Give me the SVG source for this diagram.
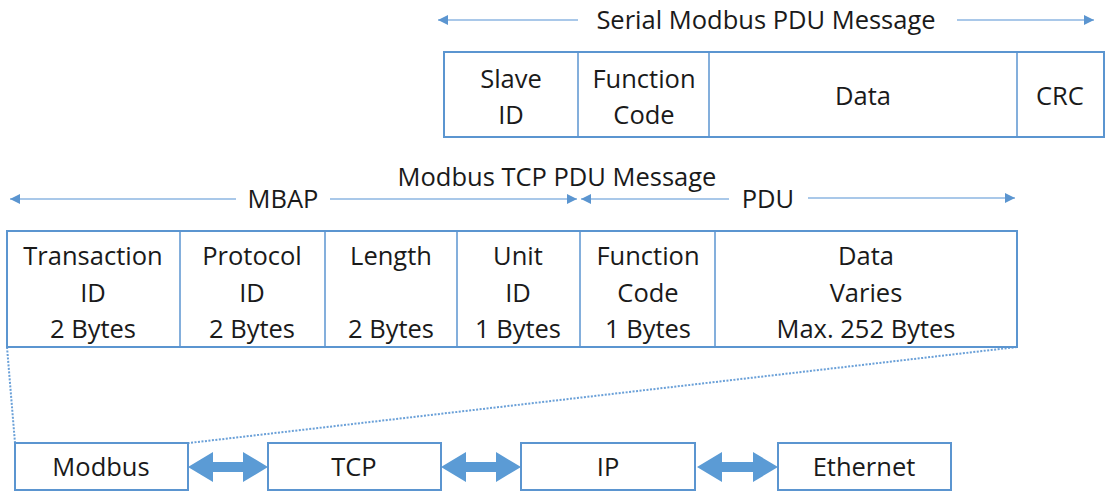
<svg xmlns="http://www.w3.org/2000/svg" width="1108" height="492" viewBox="0 0 1108 492">
<defs>
<style>
.box{fill:#ffffff;stroke:#5b95d0;stroke-width:2}
.div{stroke:#5b95d0;stroke-width:1.5}
.t{font-family:"Open Sans","Liberation Sans",sans-serif;font-size:25.5px;fill:#1a1a1a;text-anchor:middle}
.ln{stroke:#8db6e2;stroke-width:1.5;fill:none}
.dot{stroke:#6aa0d8;stroke-width:2;stroke-dasharray:2 1.5;fill:none}
.dbl{fill:#5b9bd5}
</style>
<marker id="ah" viewBox="0 0 10 10" refX="10" refY="5" markerWidth="10" markerHeight="10" markerUnits="userSpaceOnUse" orient="auto-start-reverse">
<path d="M0,0 L10,5 L0,10 z" fill="#5b95d0"/>
</marker>
</defs>
<rect width="1108" height="492" fill="#ffffff"/>

<g id="connectors">
<line class="ln" x1="438" y1="20" x2="578" y2="20" marker-start="url(#ah)"/>
<line class="ln" x1="957" y1="20" x2="1094" y2="20" marker-end="url(#ah)"/>
<line class="ln" x1="10" y1="199" x2="236" y2="199" marker-start="url(#ah)"/>
<line class="ln" x1="330" y1="199" x2="577" y2="199" marker-end="url(#ah)"/>
<line class="ln" x1="581" y1="199" x2="729" y2="199" marker-start="url(#ah)"/>
<line class="ln" x1="808" y1="198" x2="1015" y2="198" marker-end="url(#ah)"/>
<line class="dot" x1="7" y1="347" x2="15" y2="443"/>
<line class="dot" x1="1017" y1="347" x2="189" y2="443"/>
<path class="dbl" d="M188,467 L213,452 L213,462 L243,462 L243,452 L268,467 L243,482 L243,472 L213,472 L213,482 z"/>
<path class="dbl" d="M441,467 L466,452 L466,462 L496,462 L496,452 L521,467 L496,482 L496,472 L466,472 L466,482 z"/>
<path class="dbl" d="M697,467 L722,452 L722,462 L753,462 L753,452 L778,467 L753,482 L753,472 L722,472 L722,482 z"/>
</g>

<g id="labels">
<text class="t" x="766" y="29">Serial Modbus PDU Message</text>
<text class="t" x="557" y="186">Modbus TCP PDU Message</text>
<text class="t" x="283" y="208">MBAP</text>
<text class="t" x="768" y="208">PDU</text>
</g>

<g id="serial-frame">
<rect class="box" x="444" y="52" width="660" height="85"/>
<line class="div" x1="578" y1="52" x2="578" y2="137"/>
<line class="div" x1="709" y1="52" x2="709" y2="137"/>
<line class="div" x1="1017" y1="52" x2="1017" y2="137"/>
<g id="slave-id"><text class="t" x="511" y="88">Slave</text><text class="t" x="511" y="124">ID</text></g>
<g id="serial-function-code"><text class="t" x="644" y="88">Function</text><text class="t" x="644" y="124">Code</text></g>
<g id="serial-data"><text class="t" x="863" y="105">Data</text></g>
<g id="crc"><text class="t" x="1060" y="105">CRC</text></g>
</g>

<g id="tcp-frame">
<rect class="box" x="7" y="231" width="1010" height="116"/>
<line class="div" x1="180" y1="231" x2="180" y2="347"/>
<line class="div" x1="325" y1="231" x2="325" y2="347"/>
<line class="div" x1="457" y1="231" x2="457" y2="347"/>
<line class="div" x1="580" y1="231" x2="580" y2="347"/>
<line class="div" x1="715" y1="231" x2="715" y2="347"/>
<g id="transaction-id"><text class="t" x="93" y="265">Transaction</text><text class="t" x="93" y="302">ID</text><text class="t" x="93" y="338">2 Bytes</text></g>
<g id="protocol-id"><text class="t" x="252" y="265">Protocol</text><text class="t" x="252" y="302">ID</text><text class="t" x="252" y="338">2 Bytes</text></g>
<g id="length"><text class="t" x="391" y="265">Length</text><text class="t" x="391" y="338">2 Bytes</text></g>
<g id="unit-id"><text class="t" x="518" y="265">Unit</text><text class="t" x="518" y="302">ID</text><text class="t" x="518" y="338">1 Bytes</text></g>
<g id="tcp-function-code"><text class="t" x="648" y="265">Function</text><text class="t" x="648" y="302">Code</text><text class="t" x="648" y="338">1 Bytes</text></g>
<g id="tcp-data"><text class="t" x="866" y="265">Data</text><text class="t" x="866" y="302">Varies</text><text class="t" x="866" y="338">Max. 252 Bytes</text></g>
</g>

<g id="modbus"><rect class="box" x="15" y="443" width="173" height="47"/><text class="t" x="101" y="476">Modbus</text></g>
<g id="tcp"><rect class="box" x="268" y="443" width="173" height="47"/><text class="t" x="354" y="476">TCP</text></g>
<g id="ip"><rect class="box" x="521" y="443" width="174" height="47"/><text class="t" x="608" y="476">IP</text></g>
<g id="ethernet"><rect class="box" x="778" y="443" width="173" height="47"/><text class="t" x="864" y="476">Ethernet</text></g>
</svg>
